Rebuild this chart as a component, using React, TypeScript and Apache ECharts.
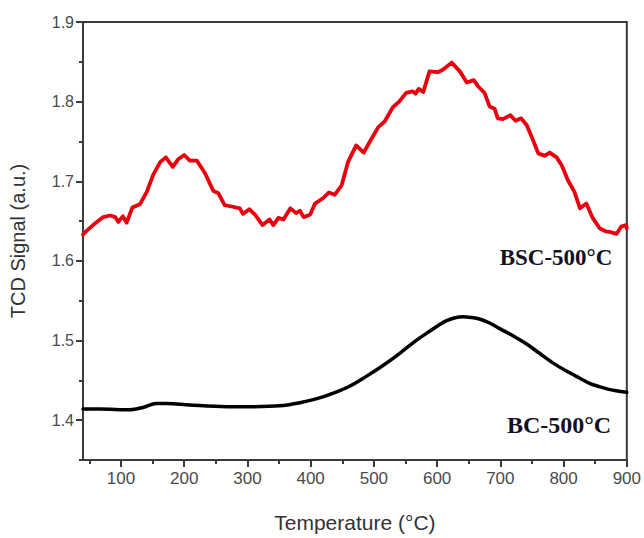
import React, { useEffect, useRef } from "react";
import * as echarts from "echarts";

// BSC-500°C (red, noisy) : [temperature °C, TCD signal]
const bscTemp = [40, 46, 56, 72, 83, 91, 96, 103, 109, 118, 130, 141, 151, 162, 171, 182, 191, 200, 209, 220, 233, 246, 254, 264, 277, 288, 293, 303, 312, 324, 335, 341, 349, 357, 368, 377, 383, 389, 399, 407, 420, 429, 438, 449, 459, 472, 484, 493, 507, 517, 530, 540, 551, 561, 566, 571, 578, 588, 601, 609, 623, 636, 647, 658, 665, 675, 683, 691, 696, 704, 716, 724, 733, 742, 751, 760, 770, 778, 789, 797, 807, 817, 826, 836, 846, 857, 867, 875, 884, 891, 899, 900];
const bscSignal = [1.633, 1.638, 1.645, 1.655, 1.657, 1.655, 1.649, 1.656, 1.648, 1.667, 1.671, 1.687, 1.708, 1.724, 1.730, 1.718, 1.728, 1.733, 1.726, 1.726, 1.710, 1.688, 1.685, 1.670, 1.668, 1.666, 1.659, 1.665, 1.658, 1.645, 1.652, 1.645, 1.654, 1.652, 1.666, 1.660, 1.663, 1.655, 1.658, 1.672, 1.679, 1.686, 1.683, 1.695, 1.724, 1.745, 1.736, 1.749, 1.768, 1.775, 1.793, 1.800, 1.811, 1.813, 1.810, 1.816, 1.812, 1.838, 1.837, 1.840, 1.849, 1.838, 1.824, 1.827, 1.819, 1.811, 1.794, 1.791, 1.779, 1.778, 1.783, 1.776, 1.779, 1.770, 1.753, 1.735, 1.732, 1.736, 1.730, 1.720, 1.701, 1.687, 1.666, 1.672, 1.654, 1.641, 1.637, 1.636, 1.634, 1.643, 1.645, 1.641];

// BC-500°C (black, smooth)
const bcTemp = [40, 67, 114, 135, 156, 172, 209, 267, 309, 351, 383, 410, 436, 460, 488, 515, 541, 565, 583, 600, 615, 630, 641, 654, 667, 683, 699, 720, 741, 762, 783, 804, 825, 842, 857, 870, 883, 900];
const bcSignal = [1.414, 1.414, 1.413, 1.416, 1.421, 1.421, 1.419, 1.417, 1.417, 1.418, 1.422, 1.427, 1.434, 1.442, 1.455, 1.469, 1.484, 1.499, 1.509, 1.518, 1.525, 1.529, 1.530, 1.529, 1.527, 1.522, 1.515, 1.506, 1.496, 1.484, 1.472, 1.462, 1.453, 1.446, 1.442, 1.439, 1.437, 1.435];

const xMajorTicks = [100, 200, 300, 400, 500, 600, 700, 800, 900];
const xMinorTicks = [50, 150, 250, 350, 450, 550, 650, 750, 850];
const yMajorTicks = [1.4, 1.5, 1.6, 1.7, 1.8, 1.9];
const yMinorTicks = [1.35, 1.45, 1.55, 1.65, 1.75, 1.85];

const X_MIN = 40;
const X_MAX = 900;
const Y_MIN = 1.35;
const Y_MAX = 1.9;

const AXIS_COLOR = "#3a3a3a";
const LABEL_COLOR = "#4a4a4a";
const SANS = "'Liberation Sans', Arial, sans-serif";
const SERIF = "'Liberation Serif', 'Times New Roman', serif";

export default function App() {
  const ref = useRef<HTMLDivElement>(null);

  useEffect(() => {
    if (!ref.current) return;
    const chart = echarts.init(ref.current, undefined, { renderer: "svg" });
    const bsc = bscTemp.map((t, i) => [t, bscSignal[i]]);
    const bc = bcTemp.map((t, i) => [t, bcSignal[i]]);

    const axisLine = { show: true, lineStyle: { color: AXIS_COLOR, width: 2 } };

    chart.setOption({
      animation: false,
      backgroundColor: "#ffffff",
      grid: {
        left: 83,
        top: 22,
        right: 16,
        bottom: 74,
        show: true,
        borderColor: AXIS_COLOR,
        borderWidth: 2,
        backgroundColor: "transparent",
      },
      xAxis: [
        {
          type: "value",
          min: X_MIN,
          max: X_MAX,
          axisLine,
          splitLine: { show: false },
          axisTick: { show: true, length: 7, lineStyle: { color: AXIS_COLOR, width: 2 }, customValues: xMajorTicks },
          axisLabel: {
            customValues: xMajorTicks,
            color: LABEL_COLOR,
            fontSize: 17,
            fontFamily: SANS,
            margin: 10,
          },
          name: "Temperature (°C)",
          nameLocation: "middle",
          nameGap: 52,
          nameTextStyle: { color: "#333", fontSize: 21, fontFamily: SANS },
        },
        {
          type: "value",
          min: X_MIN,
          max: X_MAX,
          position: "bottom",
          axisLine: { show: false },
          splitLine: { show: false },
          axisTick: { show: true, length: 4, lineStyle: { color: AXIS_COLOR, width: 2 }, customValues: xMinorTicks },
          axisLabel: { show: false },
        },
      ],
      yAxis: [
        {
          type: "value",
          min: Y_MIN,
          max: Y_MAX,
          axisLine,
          splitLine: { show: false },
          axisTick: { show: true, length: 7, lineStyle: { color: AXIS_COLOR, width: 2 }, customValues: yMajorTicks },
          axisLabel: {
            customValues: yMajorTicks,
            formatter: (v: number) => v.toFixed(1),
            color: LABEL_COLOR,
            fontSize: 16,
            fontFamily: SANS,
            margin: 9,
          },
          name: "TCD Signal (a.u.)",
          nameLocation: "middle",
          nameGap: 55,
          nameTextStyle: { color: "#333", fontSize: 20, fontFamily: SANS },
        },
        {
          type: "value",
          min: Y_MIN,
          max: Y_MAX,
          position: "left",
          axisLine: { show: false },
          splitLine: { show: false },
          axisTick: { show: true, length: 4, lineStyle: { color: AXIS_COLOR, width: 2 }, customValues: yMinorTicks },
          axisLabel: { show: false },
        },
      ],
      series: [
        {
          type: "line",
          name: "BSC-500°C",
          data: bsc,
          xAxisIndex: 0,
          yAxisIndex: 0,
          showSymbol: false,
          symbol: "none",
          lineStyle: { color: "#e8000e", width: 3.8, join: "round", cap: "round" },
          z: 3,
        },
        {
          type: "line",
          name: "BC-500°C",
          data: bc,
          xAxisIndex: 0,
          yAxisIndex: 0,
          showSymbol: false,
          symbol: "none",
          smooth: 0.35,
          lineStyle: { color: "#000000", width: 3.5, join: "round", cap: "round" },
          z: 3,
        },
      ],
      graphic: [
        {
          type: "text",
          x: 556,
          y: 257,
          style: {
            text: "BSC-500°C",
            fill: "#111122",
            font: `bold 23px ${SERIF}`,
            textAlign: "center",
            textVerticalAlign: "middle",
          },
          z: 10,
        },
        {
          type: "text",
          x: 559,
          y: 425,
          style: {
            text: "BC-500°C",
            fill: "#111122",
            font: `bold 24px ${SERIF}`,
            textAlign: "center",
            textVerticalAlign: "middle",
          },
          z: 10,
        },
      ],
    });

    return () => chart.dispose();
  }, []);

  return (
    <div
      ref={ref}
      style={{ position: "fixed", left: 0, top: 0, width: 644, height: 538 }}
    />
  );
}
